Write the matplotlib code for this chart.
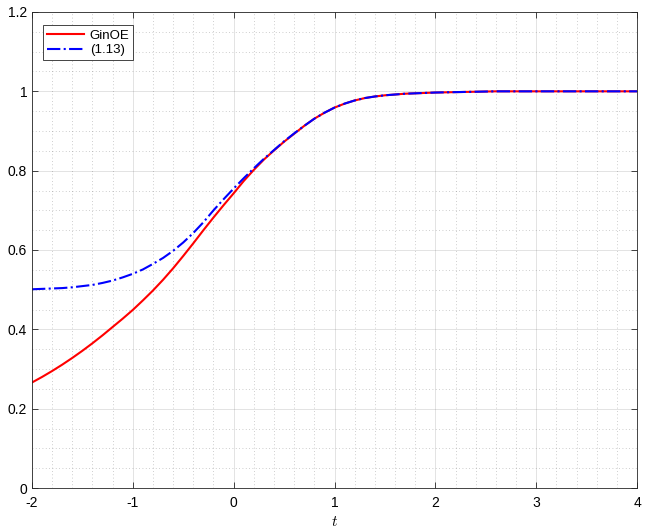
import matplotlib
matplotlib.use("Agg")
import matplotlib.pyplot as plt
import numpy as np
from matplotlib.ticker import MultipleLocator

plt.rcParams['font.family'] = ['Liberation Sans', 'DejaVu Sans']
plt.rcParams['mathtext.fontset'] = 'cm'

# values
t = [-2.0, -1.9, -1.8, -1.7, -1.6, -1.5, -1.4, -1.3, -1.2, -1.1,
     -1.0, -0.9, -0.8, -0.7, -0.6, -0.5, -0.4, -0.3, -0.2, -0.1,
     0.0, 0.1, 0.2, 0.3, 0.4, 0.5, 0.6, 0.7, 0.8, 0.9,
     1.0, 1.1, 1.2, 1.3, 1.4, 1.5, 1.6, 1.7, 1.8, 1.9,
     2.0, 2.2, 2.4, 2.6, 3.0, 3.5, 4.0]
ginoe = [0.266, 0.280, 0.295, 0.311, 0.328, 0.346, 0.365, 0.385, 0.406, 0.427,
         0.449, 0.473, 0.498, 0.525, 0.554, 0.585, 0.617, 0.650, 0.682, 0.713,
         0.743, 0.774, 0.802, 0.828, 0.851, 0.873, 0.893, 0.913, 0.931, 0.946,
         0.959, 0.969, 0.977, 0.983, 0.987, 0.990, 0.992, 0.994, 0.995, 0.996,
         0.997, 0.998, 0.999, 1.0, 1.0, 1.0, 1.0]
approx = [0.501, 0.502, 0.503, 0.504, 0.506, 0.509, 0.512, 0.517, 0.523, 0.531,
          0.540, 0.551, 0.565, 0.580, 0.598, 0.619, 0.643, 0.670, 0.700, 0.728,
          0.755, 0.781, 0.806, 0.830, 0.852, 0.874, 0.894, 0.913, 0.931, 0.946,
          0.959, 0.969, 0.977, 0.983, 0.987, 0.990, 0.992, 0.994, 0.995, 0.996,
          0.997, 0.998, 0.999, 1.0, 1.0, 1.0, 1.0]

fig = plt.figure(figsize=(6.47, 5.29), dpi=100)
ax = fig.add_axes([32/647, 1 - 488/529, 605/647, 476/529])

ax.plot(t, ginoe, '-', color='red', lw=1.5, label='GinOE')
ax.plot(t, approx, '-.', color='blue', lw=1.5, label='(1.13)')

ax.set_xlim(-2, 4)
ax.set_ylim(0, 1.2)
ax.xaxis.set_major_locator(MultipleLocator(1))
ax.xaxis.set_minor_locator(MultipleLocator(0.2))
ax.yaxis.set_major_locator(MultipleLocator(0.2))
ax.yaxis.set_minor_locator(MultipleLocator(0.05))
ax.set_xticklabels([f'{v:g}' for v in ax.get_xticks()])
ax.set_yticklabels([f'{v:g}' for v in ax.get_yticks()])

ax.grid(which='major', color=(0.15, 0.15, 0.15), alpha=0.15, lw=0.6)
ax.grid(which='minor', color=(0.15, 0.15, 0.15), alpha=0.3, lw=0.6, ls=(0, (1, 3)))
ax.set_axisbelow(True)

ax.tick_params(which='both', direction='in', top=True, right=True,
               labelsize=10, color=(0.15, 0.15, 0.15), labelcolor='black')
ax.tick_params(which='major', length=4, width=0.6)
ax.tick_params(axis='x', which='major', pad=6)
ax.tick_params(which='minor', length=0)
for s in ax.spines.values():
    s.set_color((0.15, 0.15, 0.15))
    s.set_linewidth(0.6)

ax.set_xlabel('$t$', fontsize=11, labelpad=3)

leg = ax.legend(loc='upper left', bbox_to_anchor=(0.018, 0.972), borderaxespad=0,
                fontsize=9.5, fancybox=False, framealpha=1,
                edgecolor=(0.15, 0.15, 0.15), handlelength=2.8,
                handletextpad=0.45, borderpad=0.3, labelspacing=0.2)
leg.get_frame().set_linewidth(0.6)

fig.savefig('out.png', dpi=100)
